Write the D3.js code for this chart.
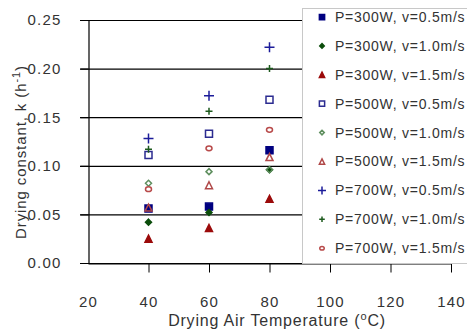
<!DOCTYPE html>
<html><head><meta charset="utf-8">
<script src="https://cdn.jsdelivr.net/npm/d3@7"></script>
<style>
body{margin:0;background:#fff;}
text{font-family:"Liberation Sans",Arial,sans-serif;fill:#333;}
</style></head>
<body><svg id="c" width="467" height="329"></svg>
<script>
const temps = [40, 60, 80];
const p300v05 = [0.056, 0.058, 0.116];
const p300v10 = [0.042, 0.052, 0.096];
const p300v15 = [0.025, 0.036, 0.066];
const p500v05 = [0.111, 0.133, 0.168];
const p500v10 = [0.082, 0.094, 0.096];
const p500v15 = [0.057, 0.080, 0.109];
const p700v05 = [0.128, 0.172, 0.222];
const p700v10 = [0.117, 0.156, 0.200];
const p700v15 = [0.076, 0.118, 0.137];
const seriesNames = ["P=300W, v=0.5m/s","P=300W, v=1.0m/s","P=300W, v=1.5m/s",
  "P=500W, v=0.5m/s","P=500W, v=1.0m/s","P=500W, v=1.5m/s",
  "P=700W, v=0.5m/s","P=700W, v=1.0m/s","P=700W, v=1.5m/s"];
const seriesValues = [p300v05,p300v10,p300v15,p500v05,p500v10,p500v15,p700v05,p700v10,p700v15];
const xTicks = [20,40,60,80,100,120,140];
const yTicks = [0,0.05,0.10,0.15,0.20,0.25];

const styles = [
  {shape:"square", fill:"#000080", stroke:"#000080", s:7},
  {shape:"diamond", fill:"#0b4d0b", stroke:"#0b4d0b", s:6},
  {shape:"triangle", fill:"#9b0a0a", stroke:"#9b0a0a", s:7},
  {shape:"square", fill:"none", stroke:"#2b2b90", s:7},
  {shape:"diamond", fill:"none", stroke:"#5f8f5f", s:6},
  {shape:"triangle", fill:"none", stroke:"#b04848", s:7},
  {shape:"plus", fill:"none", stroke:"#1c1c9a", s:10},
  {shape:"plus", fill:"none", stroke:"#1d5a1d", s:7},
  {shape:"circle", fill:"none", stroke:"#b84a4a", s:6}
];

function shapePath(shape, s){
  const h = s/2;
  if(shape==="square") return `M${-h},${-h}H${h}V${h}H${-h}Z`;
  if(shape==="diamond") return `M0,${-h}L${h},0L0,${h}L${-h},0Z`;
  if(shape==="triangle") return `M0,${-h}L${h},${h}L${-h},${h}Z`;
  if(shape==="plus") return `M${-h},0H${h}M0,${-h}V${h}`;
  if(shape==="circle") return `M${-h},0A${h},${h*0.8} 0 1,0 ${h},0A${h},${h*0.8} 0 1,0 ${-h},0Z`;
}

const svg = d3.select("#c");
const x = d3.scaleLinear().domain([20,140]).range([88,451]);
const y = d3.scaleLinear().domain([0,0.25]).range([263,20]);
const legendX = 302;

svg.append("g").selectAll("line").data(yTicks).join("line")
  .attr("x1",80).attr("x2",legendX).attr("y1",d=>y(d)+0.5).attr("y2",d=>y(d)+0.5)
  .attr("stroke","#000").attr("stroke-width",1.2);

const ya = svg.append("g").attr("transform","translate(88.5,0)")
  .call(d3.axisLeft(y).tickValues(yTicks).tickFormat(d3.format(".2f")).tickSize(8).tickPadding(19));
ya.select(".domain").attr("stroke","#000").attr("stroke-width",1.2);
ya.selectAll("line").attr("stroke","#000");
ya.selectAll("text").attr("font-size",15).attr("letter-spacing","1.2px").attr("font-family","'Liberation Sans',Arial,sans-serif").attr("fill","#333");

const xa = svg.append("g").attr("transform","translate(0,263.5)")
  .call(d3.axisBottom(x).tickValues(xTicks).tickFormat(d3.format("d")).tickSize(9).tickPadding(24).tickSizeOuter(0));
xa.select(".domain").attr("stroke","#000").attr("stroke-width",1.2);
xa.selectAll(".tick line").attr("stroke","#000");
xa.selectAll(".tick").filter(d=>d===20).select("line").remove();
xa.selectAll("text").attr("font-size",15).attr("letter-spacing","1.2px").attr("font-family","'Liberation Sans',Arial,sans-serif").attr("fill","#333");

seriesValues.forEach((vals,i)=>{
  const st = styles[i];
  svg.append("g").selectAll("path").data(vals.map((v,j)=>[temps[j],v])).join("path")
    .attr("transform",d=>`translate(${x(d[0])},${y(d[1])})`)
    .attr("d",shapePath(st.shape,st.s))
    .attr("fill",st.fill).attr("stroke",st.stroke).attr("stroke-width",1.5);
});

const lg = svg.append("g");
lg.append("rect").attr("x",legendX+0.5).attr("y",8.5).attr("width",200).attr("height",255)
  .attr("fill","#fff").attr("stroke","#c8c8c8");
seriesNames.forEach((n,i)=>{
  const yy = 17 + i*28.9;
  const st = styles[i];
  lg.append("path").attr("transform",`translate(322,${yy})`)
    .attr("d",shapePath(st.shape, st.shape==="plus"? st.s*0.8 : st.s*0.75))
    .attr("fill",st.fill).attr("stroke",st.stroke).attr("stroke-width",1.5);
  lg.append("text").attr("x",335).attr("y",yy).attr("dy","0.35em")
    .attr("font-size",14).attr("letter-spacing","0.75px").attr("fill","#333").text(n);
});

const xt = svg.append("text").attr("x",277).attr("y",326).attr("text-anchor","middle")
  .attr("font-size",16).attr("letter-spacing","0.8px").attr("fill","#333");
xt.append("tspan").text("Drying Air Temperature (");
xt.append("tspan").attr("dy",-6).attr("font-size",11).text("o");
xt.append("tspan").attr("dy",6).text("C)");

const yt = svg.append("text").attr("transform","translate(26,152) rotate(-90)").attr("text-anchor","middle")
  .attr("font-size",15).attr("letter-spacing","0.9px").attr("fill","#333");
yt.append("tspan").text("Drying constant, k (h");
yt.append("tspan").attr("dy",-6).attr("font-size",11).text("-1");
yt.append("tspan").attr("dy",6).text(")");
</script></body></html>
